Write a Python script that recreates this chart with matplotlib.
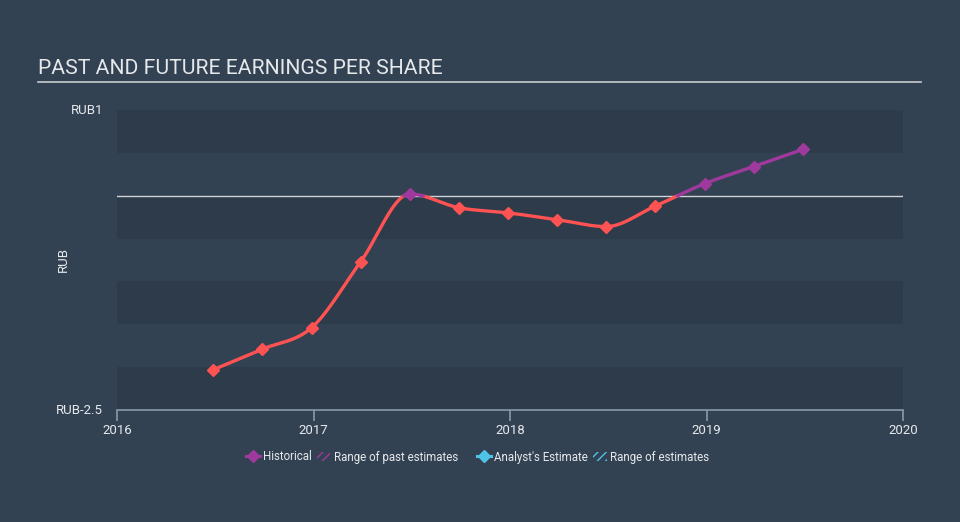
import matplotlib
matplotlib.use("Agg")
import matplotlib.pyplot as plt
import numpy as np
from matplotlib.lines import Line2D
from matplotlib.patches import Patch

plt.rcParams["font.family"] = ["Roboto", "DejaVu Sans"]

# data (year fraction, RUB per share)
dates = [2016.49, 2016.74, 2016.99, 2017.24, 2017.49, 2017.74, 2017.99,
         2018.24, 2018.49, 2018.74, 2018.99, 2019.24, 2019.49]
eps = [-2.03, -1.79, -1.54, -0.77, 0.02, -0.14, -0.20,
       -0.28, -0.36, -0.12, 0.14, 0.34, 0.54]
x_ticks = [2016, 2017, 2018, 2019, 2020]
y_ticks = [-2.5, 1]
y_tick_labels = ["RUB-2.5", "RUB1"]

BG = "#334252"
BAND = "#2e3b4a"
RED = "#ff5252"
PURPLE = "#a0399d"
BLUE = "#4fc3e8"
TEXT = "#e6e9ec"


def monotone_curve(x, y, n=40):
    """Monotone cubic (like d3 curveMonotoneX) through the points, for drawing only."""
    x = np.asarray(x, float)
    y = np.asarray(y, float)
    h = np.diff(x)
    s = np.diff(y) / h
    m = np.zeros_like(y)
    m[0], m[-1] = s[0], s[-1]
    for i in range(1, len(y) - 1):
        if s[i - 1] * s[i] > 0:
            p = (s[i - 1] * h[i] + s[i] * h[i - 1]) / (h[i - 1] + h[i])
            m[i] = np.sign(p) * min(abs(p), 2 * abs(s[i - 1]), 2 * abs(s[i]))
    xs, ys = [], []
    for i in range(len(h)):
        t = np.linspace(0, 1, n, endpoint=(i == len(h) - 1))
        h00 = 2 * t**3 - 3 * t**2 + 1
        h10 = t**3 - 2 * t**2 + t
        h01 = -2 * t**3 + 3 * t**2
        h11 = t**3 - t**2
        xs.append(x[i] + t * h[i])
        ys.append(h00 * y[i] + h10 * h[i] * m[i] + h01 * y[i + 1] + h11 * h[i] * m[i + 1])
    return np.concatenate(xs), np.concatenate(ys)


fig = plt.figure(figsize=(9.6, 5.22), dpi=100, facecolor=BG)
ax = fig.add_axes([117 / 960, 112 / 522, 786 / 960, 300 / 522])
ax.set_facecolor(BG)

# alternating bands
for lo in [0.5, -0.5, -1.5, -2.5]:
    ax.axhspan(lo, lo + 0.5, color=BAND, zorder=0, lw=0)
ax.axhline(0, color="#d0d4d8", lw=1.0, zorder=1)

xs, ys = monotone_curve(dates, eps)
ax.plot(xs, np.ma.masked_where(ys > 0.005, ys), color=RED, lw=2.4, zorder=3,
        solid_capstyle="round")
ax.plot(xs, np.ma.masked_where(ys < -0.005, ys), color=PURPLE, lw=2.4, zorder=3,
        solid_capstyle="round")
for d, v in zip(dates, eps):
    ax.plot(d, v, marker="D", ms=6.5, color=PURPLE if v >= 0 else RED, zorder=4, lw=0)

ax.set_xlim(2016, 2020)
ax.set_ylim(-2.5, 1)
ax.set_xticks(x_ticks)
ax.set_xticklabels([str(t) for t in x_ticks])
ax.set_yticks(y_ticks)
ax.set_yticklabels(y_tick_labels)
for side in ["top", "right", "left"]:
    ax.spines[side].set_visible(False)
ax.spines["bottom"].set_color("#8a98a8")
ax.spines["bottom"].set_linewidth(1.2)
ax.tick_params(axis="x", colors="#8a98a8", length=8, width=1.2, labelcolor=TEXT,
               labelsize=9.5, pad=2)
ax.tick_params(axis="y", length=0, labelcolor=TEXT, labelsize=9.5, pad=10)
for lab in ax.get_yticklabels():
    lab.set_verticalalignment("center")
ax.set_ylabel("RUB", color=TEXT, fontsize=9.5)
ax.yaxis.set_label_coords(-0.06, 0.5)

fig.text(38 / 960, 1 - 68 / 522, "PAST AND FUTURE EARNINGS PER SHARE", color=TEXT,
         fontsize=15.2, va="center", ha="left")
fig.add_artist(Line2D([38 / 960, 921 / 960], [1 - 82 / 522, 1 - 82 / 522],
                      color="#c8ccd0", lw=1.2))

# legend in two groups, like the reference
groups = [
    ([Line2D([], [], color=PURPLE, marker="D", ms=6, lw=2.2),
      Patch(facecolor="none", edgecolor=PURPLE, hatch="////", lw=0)],
     ["Historical", "Range of past estimates"], 352),
    ([Line2D([], [], color=BLUE, marker="D", ms=6, lw=2.2),
      Patch(facecolor="none", edgecolor=BLUE, hatch="////", lw=0)],
     ["Analyst's Estimate", "Range of estimates"], 593),
]
for handles, labels, xc in groups:
    leg = fig.legend(handles, labels, loc="center", bbox_to_anchor=(xc / 960, 1 - 457 / 522),
                     ncol=2, frameon=False, fontsize=8.3, labelcolor=TEXT,
                     handlelength=1.2, handletextpad=0.3, columnspacing=0.4,
                     borderpad=0, borderaxespad=0)

fig.savefig("out.png", dpi=100, facecolor=BG)
